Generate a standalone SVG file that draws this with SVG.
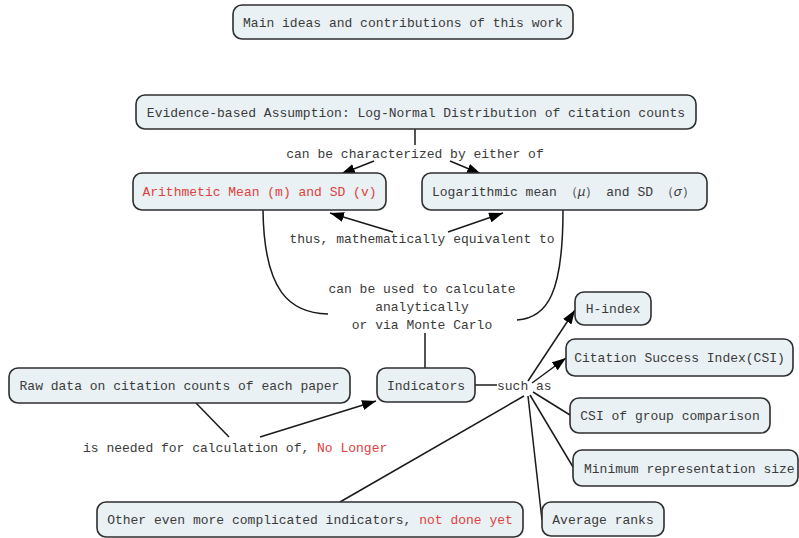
<svg xmlns="http://www.w3.org/2000/svg" width="799" height="538" viewBox="0 0 799 538">
<defs>
<style>
.box{fill:#e9f1f4;stroke:#2e2e2e;stroke-width:1.6}
.t{font-family:"Liberation Mono","DejaVu Sans Mono",monospace;font-size:13px;fill:#3a3a3a}
.red{fill:#e0403c}
.c{text-anchor:middle}
.ln{fill:none;stroke:#1a1a1a;stroke-width:1.5}
</style>
<marker id="ah" viewBox="0 0 14 10" refX="14" refY="5" markerWidth="14" markerHeight="10" markerUnits="userSpaceOnUse" orient="auto">
<path d="M0,0 L14,5 L0,10 z" fill="#000"/>
</marker>
</defs>
<rect width="799" height="538" fill="#fff"/>
<g id="connectors">
<path class="ln" d="M415,129 L415,145"/>
<path class="ln" d="M374,161 L341,174" marker-end="url(#ah)"/>
<path class="ln" d="M450,161 L481,174" marker-end="url(#ah)"/>
<path class="ln" d="M393,232 L330,213" marker-end="url(#ah)"/>
<path class="ln" d="M448,232 L503,213" marker-end="url(#ah)"/>
<path class="ln" d="M263,210 C264,292 290,313 328,314"/>
<path class="ln" d="M563,210 C563,292 548,318 517,320"/>
<path class="ln" d="M425,333 L425,368"/>
<path class="ln" d="M475,385 L497,385"/>
<path class="ln" d="M528,381 L575,310" marker-end="url(#ah)"/>
<path class="ln" d="M532,383 L566,358" marker-end="url(#ah)"/>
<path class="ln" d="M533,392 L570,415"/>
<path class="ln" d="M530,395 L573,467"/>
<path class="ln" d="M528,396 L542,520"/>
<path class="ln" d="M524,396 L340,502"/>
<path class="ln" d="M196,403 L229,437"/>
<path class="ln" d="M260,437 L376,401" marker-end="url(#ah)"/>
</g>
<g id="labels">
<text class="t c" x="415" y="158">can be characterized by either of</text>
<text class="t c" x="422" y="243">thus, mathematically equivalent to</text>
<text class="t c" x="422" y="293">can be used to calculate</text>
<text class="t c" x="422" y="311">analytically</text>
<text class="t c" x="422" y="329">or via Monte Carlo</text>
<text class="t" x="497" y="390">such as</text>
<text class="t" x="83" y="452">is needed for calculation of, <tspan class="red">No Longer</tspan></text>
</g>
<g id="n-main"><rect class="box" x="233" y="5" width="340" height="34" rx="9"/><text class="t c" x="403" y="26.5">Main ideas and contributions of this work</text></g>
<g id="n-evidence"><rect class="box" x="136" y="95" width="560" height="34" rx="9"/><text class="t c" x="416" y="116.5">Evidence-based Assumption: Log-Normal Distribution of citation counts</text></g>
<g id="n-arith"><rect class="box" x="133" y="173" width="253" height="37" rx="9"/><text class="t c red" x="259.5" y="196">Arithmetic Mean (m) and SD (v)</text></g>
<g id="n-log"><rect class="box" x="422" y="173" width="285" height="37" rx="9"/><text class="t" x="432" y="196">Logarithmic mean （<tspan font-style="italic">μ</tspan>） and SD （<tspan font-style="italic">σ</tspan>）</text></g>
<g id="n-raw"><rect class="box" x="9" y="368" width="341" height="35" rx="9"/><text class="t c" x="179.5" y="390">Raw data on citation counts of each paper</text></g>
<g id="n-indicators"><rect class="box" x="377" y="368" width="98" height="34" rx="9"/><text class="t c" x="426" y="389.5">Indicators</text></g>
<g id="n-hindex"><rect class="box" x="575" y="292" width="76" height="33" rx="9"/><text class="t c" x="613" y="313">H-index</text></g>
<g id="n-csi"><rect class="box" x="566" y="339" width="227" height="37" rx="9"/><text class="t c" x="679.5" y="362">Citation Success Index(CSI)</text></g>
<g id="n-csigroup"><rect class="box" x="570" y="398" width="200" height="35" rx="9"/><text class="t c" x="670" y="420">CSI of group comparison</text></g>
<g id="n-minimum"><rect class="box" x="573" y="450" width="225" height="36" rx="9"/><text class="t" x="584" y="472.5">Minimum representation size</text></g>
<g id="n-average"><rect class="box" x="542" y="502" width="122" height="34" rx="9"/><text class="t c" x="603" y="523.5">Average ranks</text></g>
<g id="n-other"><rect class="box" x="97" y="502" width="426" height="35" rx="9"/><text class="t c" x="310" y="524">Other even more complicated indicators, <tspan class="red">not done yet</tspan></text></g>
</svg>
